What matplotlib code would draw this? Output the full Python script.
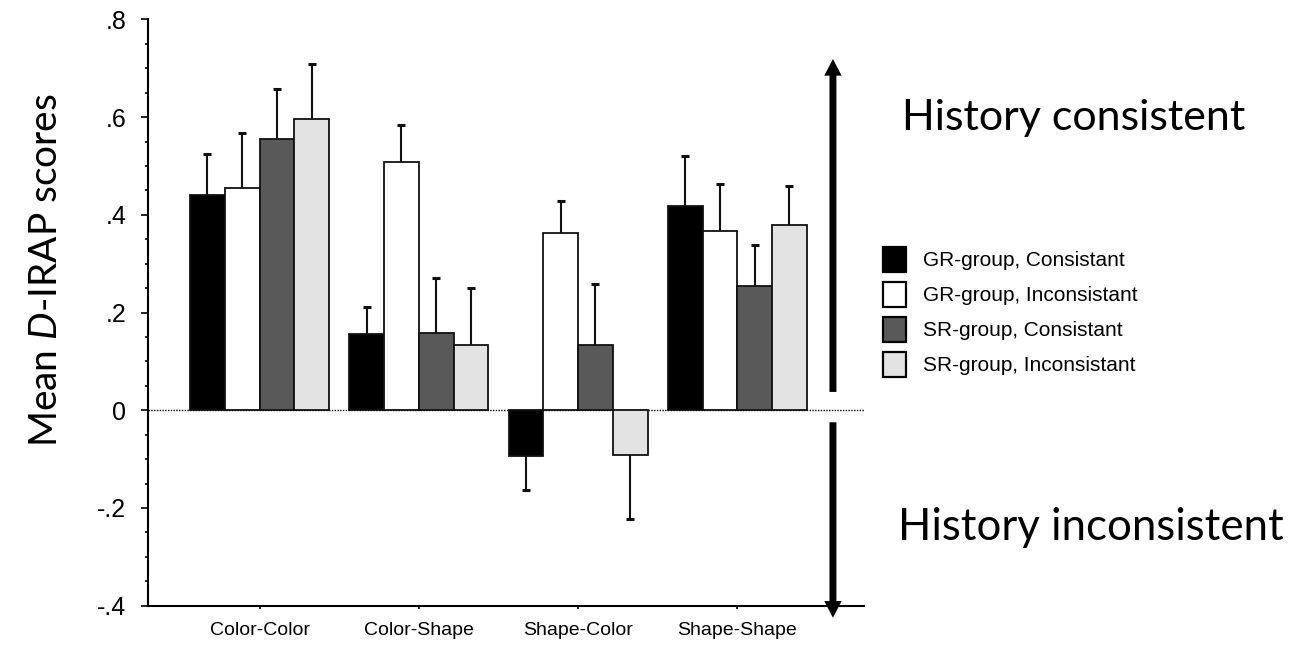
import numpy as np
import matplotlib
matplotlib.use("Agg")
import matplotlib.pyplot as plt
from matplotlib.patches import Patch
from matplotlib.ticker import MultipleLocator, FixedLocator

plt.rcParams['font.family'] = ['Liberation Sans', 'DejaVu Sans']
plt.rcParams['mathtext.fontset'] = 'custom'
plt.rcParams['mathtext.rm'] = 'Lato'
plt.rcParams['mathtext.it'] = 'Lato:italic'

# data
categories = ['Color-Color', 'Color-Shape', 'Shape-Color', 'Shape-Shape']
series = ['GR-group, Consistant', 'GR-group, Inconsistant',
          'SR-group, Consistant', 'SR-group, Inconsistant']
means = [
    [0.440, 0.156, -0.094, 0.418],
    [0.455, 0.509, 0.362, 0.367],
    [0.555, 0.158, 0.133, 0.254],
    [0.597, 0.133, -0.092, 0.379],
]
errors = [
    [0.085, 0.056, 0.070, 0.103],
    [0.112, 0.074, 0.067, 0.096],
    [0.103, 0.113, 0.126, 0.084],
    [0.112, 0.117, 0.130, 0.080],
]
colors = ['#000000', '#ffffff', '#595959', '#e3e3e3']
ytick_vals = [-0.4, -0.2, 0, 0.2, 0.4, 0.6, 0.8]
ytick_labels = ['-.4', '-.2', '0', '.2', '.4', '.6', '.8']

W, H = 1304, 645
fig = plt.figure(figsize=(W / 100, H / 100), dpi=100)
ax = fig.add_axes([148 / W, 1 - 605.7 / H, (864 - 148) / W, (605.7 - 19.4) / H])

x = np.arange(len(categories))
bw = 0.218
ax.axhline(0, color='k', lw=1, ls=(0, (1, 1)), zorder=0)
for i in range(4):
    xs = x + (i - 1.5) * bw
    m = np.array(means[i])
    e = np.array(errors[i])
    ax.bar(xs, m, width=bw, color=colors[i], edgecolor='#111111', lw=1.3, zorder=2)
    ends = m + np.sign(m) * e
    ax.vlines(xs, m, ends, color='#111111', lw=1.5, zorder=1)
    ax.plot(xs, ends, ls='none', marker='_', ms=6, mew=2.2, color='#111111', zorder=1)

ax.set_xlim(-0.70, 3.795)
ax.set_ylim(-0.4, 0.8)
ax.spines['top'].set_visible(False)
ax.spines['right'].set_visible(False)
ax.spines['left'].set_linewidth(1.5)
ax.spines['bottom'].set_linewidth(1.5)
ax.yaxis.set_major_locator(FixedLocator(ytick_vals))
ax.set_yticklabels(ytick_labels)
ax.yaxis.set_minor_locator(MultipleLocator(0.05))
ax.set_xticks(x)
ax.set_xticklabels(categories)
ax.tick_params(axis='y', which='major', length=5, width=1.2, labelsize=18, pad=10.5)
ax.tick_params(axis='y', which='minor', length=2.5, width=1.2)
ax.tick_params(axis='x', length=2.5, width=1.2, labelsize=14, pad=9)

# double arrow, broken at zero
astyle = 'simple,head_length=12,head_width=12.5,tail_width=5'
ax.annotate('', xy=(3.6, 0.719), xytext=(3.6, 0.0375), annotation_clip=False,
            arrowprops=dict(arrowstyle=astyle, mutation_scale=1, color='k', lw=0,
                            shrinkA=0, shrinkB=0, clip_on=False))
ax.annotate('', xy=(3.6, -0.4246), xytext=(3.6, -0.0246), annotation_clip=False,
            arrowprops=dict(arrowstyle=astyle, mutation_scale=1, color='k', lw=0,
                            shrinkA=0, shrinkB=0, clip_on=False))

fig.text(46 / W, 1 - 270 / H, r'Mean $\mathit{D}$-IRAP scores', rotation=90,
         ha='center', va='center', fontsize=28, family='Lato')
fig.text(902 / W, 1 - 130 / H, 'History consistent', fontsize=31, family='Lato',
         ha='left', va='baseline')
fig.text(898 / W, 1 - 540 / H, 'History inconsistent', fontsize=31.5, family='Lato',
         ha='left', va='baseline')

handles = [Patch(facecolor=c, edgecolor='k', lw=1.6) for c in colors]
fig.legend(handles, series, loc='upper left', bbox_to_anchor=(883 / W, 1 - 247 / H),
           frameon=False, fontsize=15, borderpad=0, borderaxespad=0,
           handlelength=1.1, handleheight=1.47, handletextpad=0.82, labelspacing=0.48)

fig.savefig('out.png', dpi=100)
